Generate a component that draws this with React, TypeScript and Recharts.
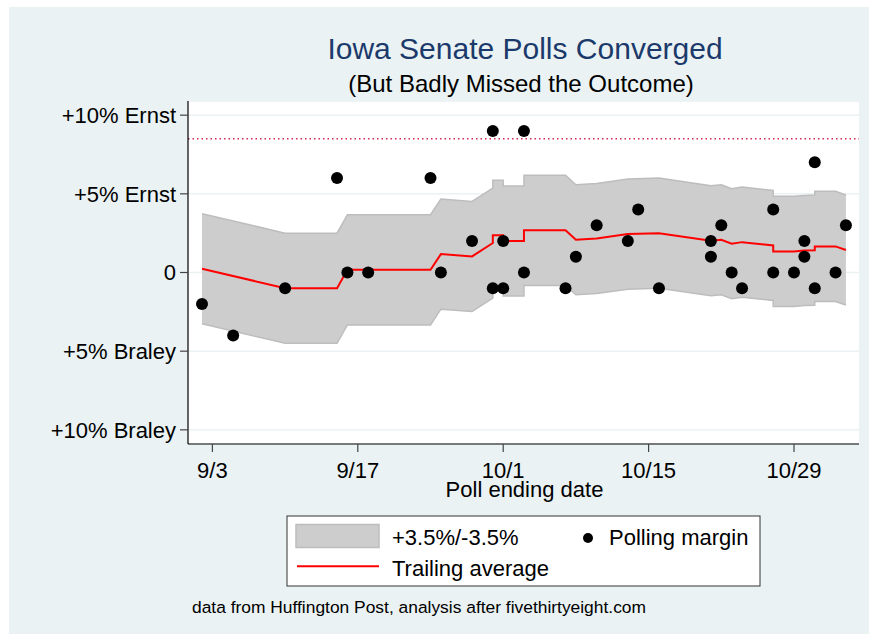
import {
  ComposedChart,
  Area,
  Line,
  Scatter,
  XAxis,
  YAxis,
  CartesianGrid,
  ReferenceLine,
} from "recharts";

// ─── Data ────────────────────────────────────────────────────────────────────
// x = days since Aug 31, 2014 (9/3 = 2, 10/1 = 30 …)

const xTicks = [2, 16, 30, 44, 58];
const xTickLabels = ["9/3", "9/17", "10/1", "10/15", "10/29"];

const yTicks = [10, 5, 0, -5, -10];
const yTickLabels = ["+10% Ernst", "+5% Ernst", "0", "+5% Braley", "+10% Braley"];

// polls: ending date and Ernst margin
const pollDays = [
  1, 4, 9, 14, 15, 17, 23, 24, 27, 29, 29, 30, 30, 32, 32, 36, 37, 39, 42, 43,
  45, 50, 50, 51, 52, 53, 56, 56, 58, 59, 59, 60, 60, 62, 63,
];
const pollMargins = [
  -2, -4, -1, 6, 0, 0, 6, 0, 2, 9, -1, 2, -1, 9, 0, -1, 1, 3, 2, 4,
  -1, 2, 1, 3, 0, -1, 4, 0, 0, 2, 1, 7, -1, 0, 3,
];

// trailing average and its +3.5 / -3.5 band
const avgDays = [
  1, 9, 14, 15, 23, 24, 27, 29, 29, 30, 30, 32, 32, 36, 37, 39, 42, 45, 50, 51,
  52, 53, 56, 56, 58, 59, 60, 60, 62, 63,
];
const avgValues = [
  0.24, -1.0, -1.0, 0.17, 0.17, 1.17, 1.02, 1.87, 2.36, 2.36, 2.0, 2.0, 2.68,
  2.68, 2.08, 2.16, 2.44, 2.5, 2.02, 2.08, 1.83, 1.93, 1.72, 1.34, 1.34, 1.4,
  1.42, 1.66, 1.66, 1.43,
];
const bandHigh = [
  3.74, 2.5, 2.5, 3.67, 3.67, 4.67, 4.52, 5.37, 5.86, 5.86, 5.5, 5.5, 6.18,
  6.18, 5.58, 5.66, 5.94, 6.0, 5.52, 5.58, 5.33, 5.43, 5.22, 4.84, 4.84, 4.9,
  4.92, 5.16, 5.16, 4.93,
];
const bandLow = [
  -3.26, -4.5, -4.5, -3.33, -3.33, -2.33, -2.48, -1.63, -1.14, -1.14, -1.5,
  -1.5, -0.82, -0.82, -1.42, -1.34, -1.06, -1.0, -1.48, -1.42, -1.67, -1.57,
  -1.78, -2.16, -2.16, -2.1, -2.08, -1.84, -1.84, -2.07,
];

const electionResult = 8.5;

// ─── Styles ──────────────────────────────────────────────────────────────────

const FONT = '"Liberation Sans", Arial, Helvetica, sans-serif';
const BG = "#EAF2F3";
const BAND_FILL = "#CDCDCD";
const BAND_STROKE = "#BDBDBD";

const avgData = avgDays.map((d, i) => ({
  day: d,
  avg: avgValues[i],
  band: [bandLow[i], bandHigh[i]],
}));

const pollData = pollDays.map((d, i) => ({ day: d, margin: pollMargins[i] }));

function Dot(props: any) {
  const { cx, cy } = props;
  if (cx == null || cy == null) return null;
  return <circle cx={cx} cy={cy} r={6} fill="#000" />;
}

// ─── Component ───────────────────────────────────────────────────────────────

export default function App() {
  return (
    <div
      style={{
        position: "absolute",
        left: 0,
        top: 0,
        width: 869,
        height: 639,
        background: "#fff",
        fontFamily: FONT,
      }}
    >
      <svg
        width={869}
        height={639}
        style={{ position: "absolute", left: 0, top: 0 }}
      >
        <rect x={9} y={7} width={860} height={627} fill={BG} />
      </svg>

      <div style={{ position: "absolute", left: 0, top: 0 }}>
        <ComposedChart
          width={869}
          height={639}
          data={avgData}
          margin={{ top: 101, right: 10, bottom: 155, left: 8 }}
        >
          <CartesianGrid
            vertical={false}
            horizontal
            stroke={BG}
            strokeWidth={1.5}
            fill="#ffffff"
            fillOpacity={1}
          />
          <XAxis
            dataKey="day"
            type="number"
            domain={[-0.35, 64.26]}
            allowDataOverflow
            ticks={xTicks}
            tickFormatter={(v: number) => xTickLabels[xTicks.indexOf(v)] ?? ""}
            height={40}
            tickSize={8}
            tickMargin={10}
            axisLine={{ stroke: "#000", strokeWidth: 1.2 }}
            tickLine={{ stroke: "#444", strokeWidth: 1.2 }}
            tick={{ fill: "#000", fontSize: 22, fontFamily: FONT }}
            interval={0}
          />
          <YAxis
            type="number"
            domain={[-10.9, 10.9]}
            allowDataOverflow
            ticks={yTicks}
            tickFormatter={(v: number) => yTickLabels[yTicks.indexOf(v)] ?? ""}
            width={180}
            tickSize={8}
            tickMargin={4}
            axisLine={{ stroke: "#000", strokeWidth: 1.2 }}
            tickLine={{ stroke: "#444", strokeWidth: 1.2 }}
            tick={{ fill: "#000", fontSize: 22, fontFamily: FONT }}
            interval={0}
          />
          <Area
            dataKey="band"
            type="linear"
            fill={BAND_FILL}
            fillOpacity={1}
            stroke={BAND_STROKE}
            strokeWidth={1.5}
            isAnimationActive={false}
            activeDot={false}
          />
          <ReferenceLine
            y={electionResult}
            stroke="#D42A55"
            strokeDasharray="1.5 3"
            strokeWidth={1.5}
          />
          <Line
            dataKey="avg"
            type="linear"
            stroke="#FF0000"
            strokeWidth={2}
            dot={false}
            activeDot={false}
            isAnimationActive={false}
          />
          <Scatter
            data={pollData}
            dataKey="margin"
            shape={<Dot />}
            isAnimationActive={false}
          />
        </ComposedChart>
      </div>

      <svg
        width={869}
        height={639}
        style={{ position: "absolute", left: 0, top: 0, pointerEvents: "none" }}
        fontFamily={FONT}
      >
        {/* ── Titles ── */}
        <text x={525} y={59} textAnchor="middle" fontSize={30} fill="#1B3A6B">
          Iowa Senate Polls Converged
        </text>
        <text x={521} y={92} textAnchor="middle" fontSize={24} fill="#000">
          (But Badly Missed the Outcome)
        </text>
        <text x={524.5} y={497} textAnchor="middle" fontSize={22} fill="#000">
          Poll ending date
        </text>

        {/* ── Legend ── */}
        <rect x={287} y={516} width={473} height={70} fill="#fff" stroke="#333" strokeWidth={1} />
        <rect x={296} y={524.5} width={83} height={23} fill={BAND_FILL} stroke={BAND_STROKE} strokeWidth={1.5} />
        <text x={392} y={545} fontSize={22} fill="#000">
          +3.5%/-3.5%
        </text>
        <circle cx={588} cy={538} r={5} fill="#000" />
        <text x={609} y={545} fontSize={22} fill="#000">
          Polling margin
        </text>
        <line x1={297} x2={379} y1={566.3} y2={566.3} stroke="#FF0000" strokeWidth={2} />
        <text x={392} y={576} fontSize={22} fill="#000">
          Trailing average
        </text>

        {/* ── Source ── */}
        <text x={192} y={613} fontSize={17.4} fill="#000">
          data from Huffington Post, analysis after fivethirtyeight.com
        </text>
      </svg>
    </div>
  );
}
